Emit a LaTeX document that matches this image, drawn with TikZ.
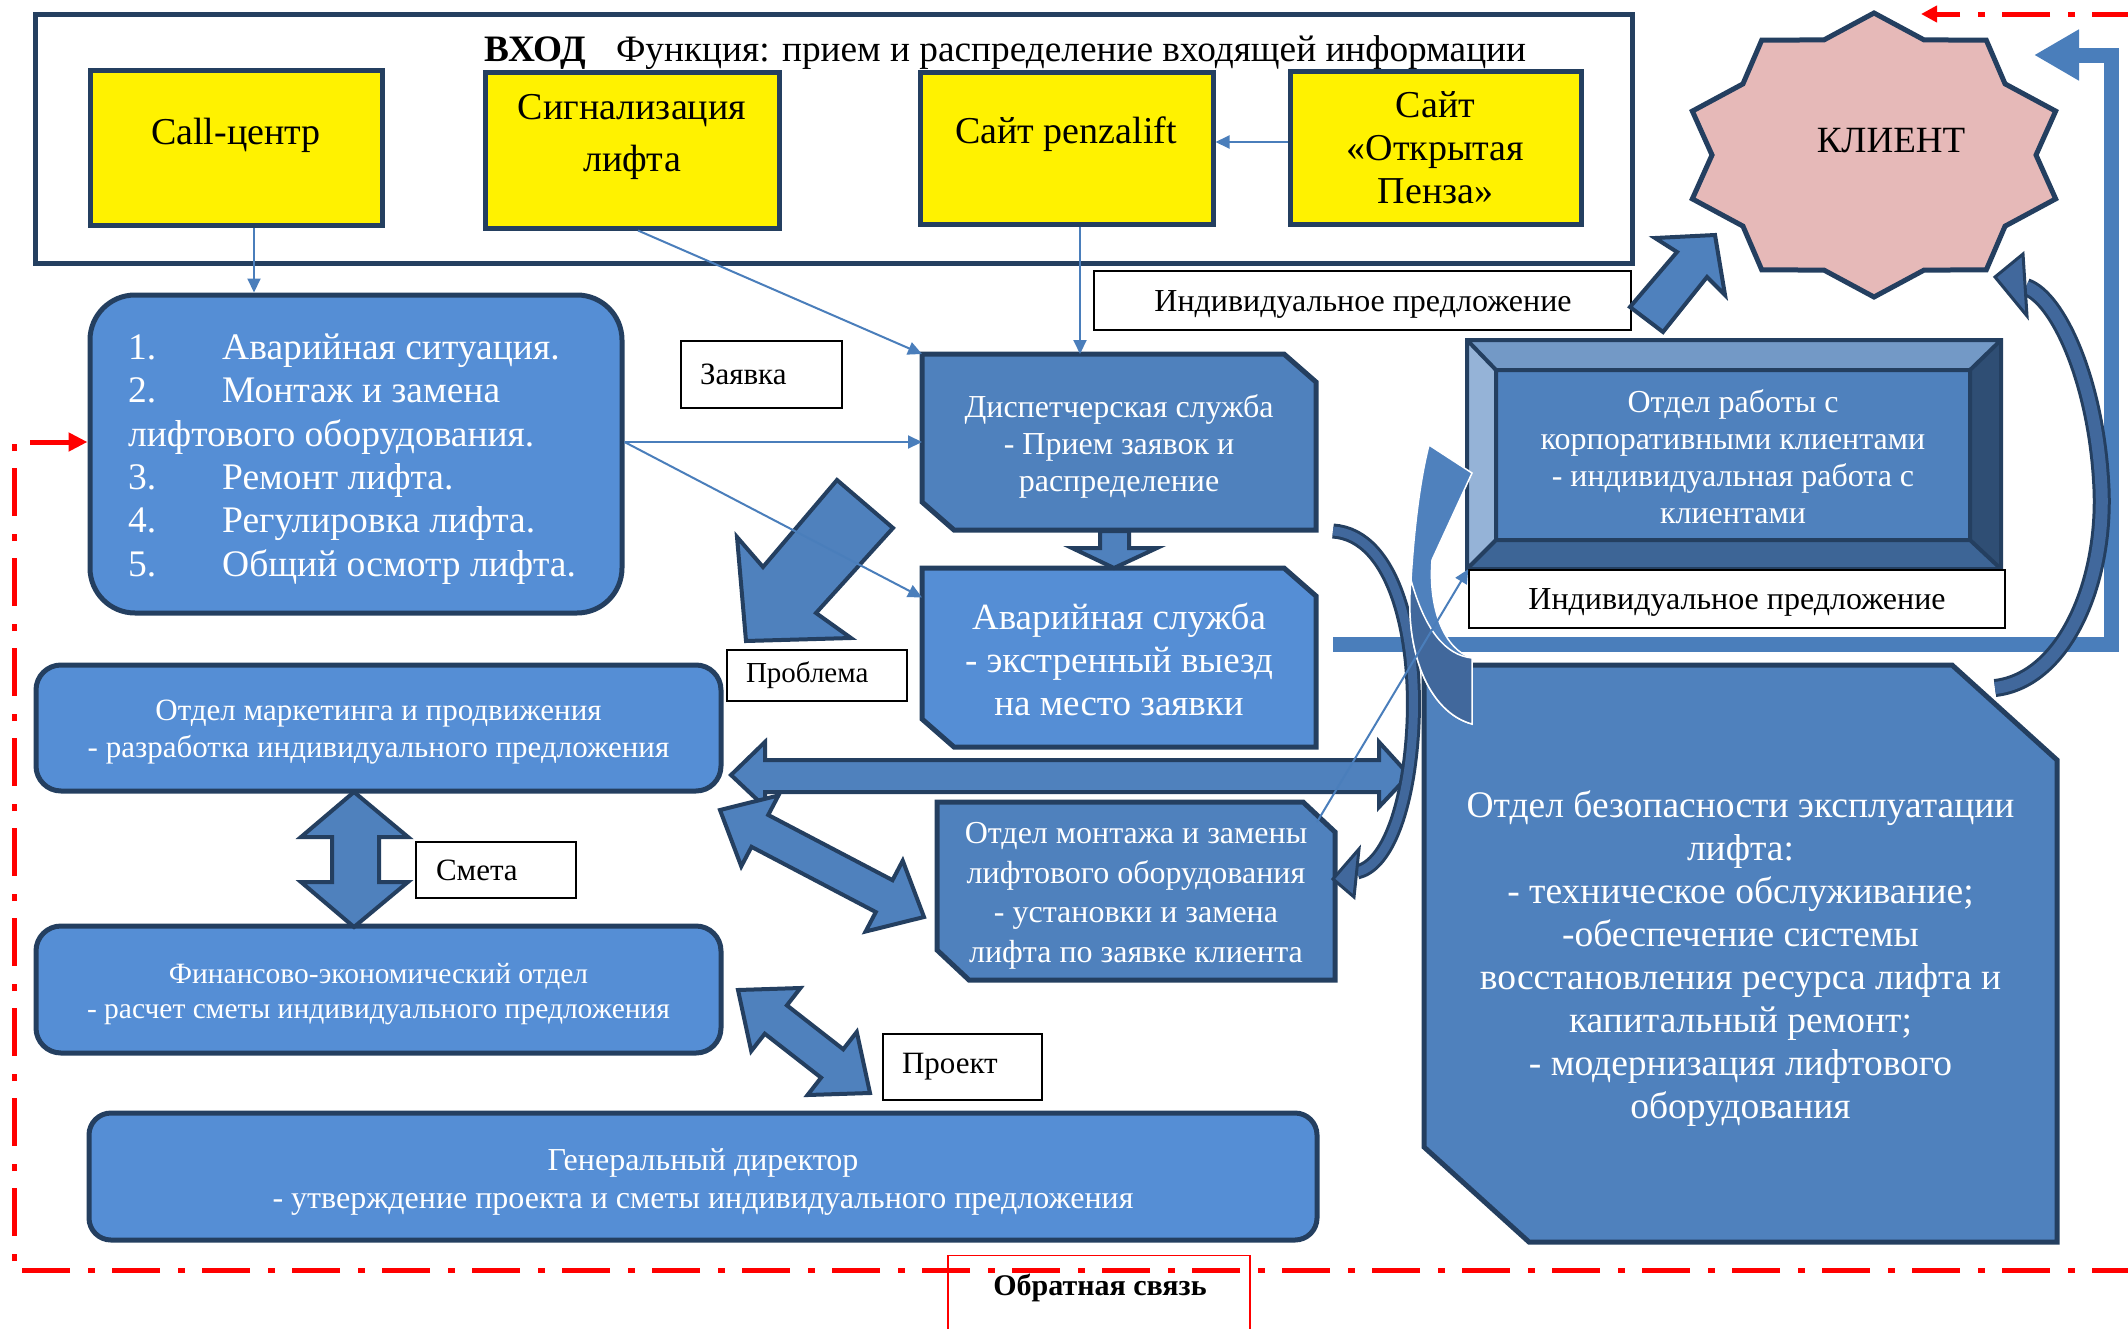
\documentclass[tikz,border=0pt]{standalone}
\usepackage{fontspec}
\setmainfont{Liberation Serif}
\usetikzlibrary{calc,arrows.meta}
\definecolor{navy}{HTML}{243F60}
\definecolor{bluemid}{HTML}{4F81BD}
\definecolor{bluelight}{HTML}{558ED5}
\definecolor{connblue}{HTML}{4A7EBB}
\definecolor{pinkk}{HTML}{E6B9B8}
\definecolor{bandfill}{HTML}{41689C}
\definecolor{bevtop}{HTML}{7399C6}
\definecolor{bevleft}{HTML}{95B3D7}
\definecolor{bevright}{HTML}{2F4E74}
\definecolor{bevbot}{HTML}{3D6596}
\newcommand\fsz[2]{\fontsize{#1}{#2}\selectfont}
\newcommand\dblarrow[5]{%
  \path ($(#1)!#3!(#2)$) coordinate (h1) ($(#2)!#3!(#1)$) coordinate (h2);
  \draw[blockarrow] (#1) -- ($(h1)!#4!90:(#2)$) -- ($(h1)!#5!90:(#2)$) -- ($(h2)!#5!-90:(#1)$) -- ($(h2)!#4!-90:(#1)$) -- (#2) -- ($(h2)!#4!90:(#1)$) -- ($(h2)!#5!90:(#1)$) -- ($(h1)!#5!-90:(#2)$) -- ($(h1)!#4!-90:(#2)$) -- cycle;}
% chamfered box drawn round a named (invisible) node: #1 name, #2 fill, #3 x-cut, #4 y-cut
\newcommand\chamfbox[4]{%
  \draw[draw=navy, line width=5, fill=#2, line join=miter] (#1.north west) -- ([xshift=-#3]#1.north east) -- ([yshift=-#4]#1.north east) -- (#1.south east) -- ([xshift=#3]#1.south west) -- ([yshift=#4]#1.south west) -- cycle;}
\begin{document}
\begin{tikzpicture}[x=1pt,y=-1pt,
  ybox/.style={draw=navy, line width=5, fill=yellow, inner sep=0},
  lbl/.style={draw=black, line width=1.5, fill=white, inner sep=0, text=black},
  rbox/.style={draw=navy, line width=5, fill=bluelight, inner sep=0},
  area/.style={inner sep=0, outer sep=0},
  wtext/.style={text=white, align=center, inner sep=0},
  blockarrow/.style={draw=navy, line width=4, fill=bluemid, line join=miter},
  conn/.style={draw=connblue, line width=2, -{Triangle[length=14pt,width=13pt]}},
  feedback/.style={draw=red, line width=5, dash pattern=on 48pt off 17pt on 7pt off 18pt}]
\clip (0,0) rectangle (2128,1328);
\fill[white] (0,0) rectangle (2128,1328);

% blue frame band to the client
\draw[connblue, line width=15, line join=miter, -{Triangle[length=45pt,width=48pt]}] (1333,644) -- (2111,644) -- (2111,55) -- (2034,55);

% input block
\node[draw=navy, line width=5, minimum width=1597, minimum height=249, inner sep=0] (vhod) at (833.5,138.5) {};
\node[anchor=base west, font=\fsz{37.3}{44}, inner sep=0] (title) at (484,61) {\textbf{ВХОД}\hspace{30pt}Функция: прием и распределение входящей информации};

\node[ybox, minimum width=292, minimum height=155] (call) at (236,147.5) {};
\node[anchor=base, font=\fsz{38}{46}, inner sep=0] (calltxt) at (236,144) {Call-центр};
\node[ybox, minimum width=294, minimum height=156] (signal) at (632,150) {};
\node[align=center, font=\fsz{38}{52}, inner sep=0] (signaltxt) at (632,137) {Сигнализация\\лифта};
\node[ybox, minimum width=293, minimum height=152] (penza) at (1066.5,148) {};
\node[anchor=base, font=\fsz{38}{46}, inner sep=0] (penzatxt) at (1066,143) {Сайт penzalift};
\node[ybox, minimum width=291, minimum height=153, align=center, font=\fsz{38}{43}] (open) at (1435.5,147.5) {Сайт\\«Открытая\\Пенза»};

% client star
\begin{scope}[shift={(1874,155)}]
\draw[draw=navy, line width=5, fill=pinkk, line join=miter] (90:191 and 142) \foreach \a in {0,36,...,324} { -- ({108+\a}:162 and 121) -- ({126+\a}:191 and 142) } -- cycle;
\end{scope}
\node[anchor=base, font=\fsz{37}{44}, inner sep=0] (client) at (1891,152) {КЛИЕНТ};

% list box
\node[rbox, rounded corners=45, minimum width=532, minimum height=318] (list) at (356,454) {};
\node[anchor=west, align=left, text=white, font=\fsz{37.5}{43.3}, inner sep=0] (listtxt) at (128,459) {\makebox[94pt][l]{1.}Аварийная ситуация.\\\makebox[94pt][l]{2.}Монтаж и замена\\лифтового оборудования.\\\makebox[94pt][l]{3.}Ремонт лифта.\\\makebox[94pt][l]{4.}Регулировка лифта.\\\makebox[94pt][l]{5.}Общий осмотр лифта.};

\node[lbl, text width=123pt, inner xsep=19pt, minimum height=67pt, align=left, font=\fsz{31}{36}] (zayavka) at (761.5,374.5) {Заявка};

% services (chamfered boxes)
\node[area, minimum width=394, minimum height=176] (disp) at (1119,442) {};
\chamfbox{disp}{bluemid}{32pt}{28pt}
\node[wtext, font=\fsz{32}{37}] (disptxt) at (1119,446.5) {Диспетчерская служба\\- Прием заявок и\\распределение};
\node[area, minimum width=394, minimum height=179] (avar) at (1119,657.5) {};
\chamfbox{avar}{bluelight}{32pt}{28pt}
\node[wtext, font=\fsz{37}{43}] (avartxt) at (1119,659) {Аварийная служба\\- экстренный выезд\\на место заявки};
\node[area, minimum width=398, minimum height=178] (montazh) at (1136,891) {};
\chamfbox{montazh}{bluemid}{32pt}{30pt}
\node[wtext, font=\fsz{32}{39.5}] (montxt) at (1136,896) {Отдел монтажа и замены\\лифтового оборудования\\- установки и замена\\лифта по заявке клиента};
\node[area, minimum width=633, minimum height=577] (bez) at (1740.5,953.5) {};
\chamfbox{bez}{bluemid}{105pt}{95pt}
\node[wtext, font=\fsz{37.5}{43}] (beztxt) at (1740.5,958.5) {Отдел безопасности эксплуатации\\лифта:\\- техническое обслуживание;\\-обеспечение системы\\восстановления ресурса лифта и\\капитальный ремонт;\\- модернизация лифтового\\оборудования};

% labels
\node[lbl, minimum width=537, minimum height=59] (lab1) at (1362.5,300.5) {};
\node[anchor=base, font=\fsz{32}{38}, inner sep=0] (lab1txt) at (1363,311) {Индивидуальное предложение};
\node[lbl, text width=142pt, inner xsep=19pt, minimum height=51pt, align=left, font=\fsz{29}{35}] (problem) at (817,675.5) {Проблема};

% left departments
\node[rbox, rounded corners=25, minimum width=685, minimum height=126] (mark) at (378.5,728) {};
\node[wtext, font=\fsz{31}{37.5}] (marktxt) at (378.5,732) {Отдел маркетинга и продвижения\\- разработка индивидуального предложения};
\node[rbox, rounded corners=25, minimum width=685, minimum height=127] (fin) at (378.5,989.5) {};
\node[wtext, font=\fsz{29.5}{35}] (fintxt) at (378.5,994) {Финансово-экономический отдел\\- расчет сметы индивидуального предложения};
\node[rbox, rounded corners=22, minimum width=1228, minimum height=127] (gen) at (703,1176.5) {};
\node[wtext, font=\fsz{32}{38}] (gentxt) at (703,1181.5) {Генеральный директор\\- утверждение проекта и сметы индивидуального предложения};
\node[lbl, text width=120pt, inner xsep=20pt, minimum height=56pt, align=left, font=\fsz{31}{37}] (smeta) at (496,870) {Смета};
\node[lbl, text width=121pt, inner xsep=19pt, minimum height=66pt, align=left, font=\fsz{31}{37}] (proekt) at (962.5,1067) {Проект};

% bevel box
\fill[bluemid] (1467,340) rectangle (2001,569);
\fill[bevtop] (1467,340) -- (2001,340) -- (1970,370) -- (1496,370) -- cycle;
\fill[bevleft] (1467,340) -- (1496,370) -- (1496,540) -- (1467,569) -- cycle;
\fill[bevright] (2001,340) -- (2001,569) -- (1970,540) -- (1970,370) -- cycle;
\fill[bevbot] (1467,569) -- (2001,569) -- (1970,540) -- (1496,540) -- cycle;
\draw[navy, line width=4] (1467,340) rectangle (2001,569) (1496,370) rectangle (1970,540) (1467,340) -- (1496,370) (2001,340) -- (1970,370) (2001,569) -- (1970,540) (1467,569) -- (1496,540);
\node[wtext, font=\fsz{32}{37}] (corp) at (1733,457) {Отдел работы с\\корпоративными клиентами\\- индивидуальная работа с\\клиентами};
\node[lbl, minimum width=536, minimum height=58] (lab2) at (1737,599) {};
\node[anchor=base, font=\fsz{32}{38}, inner sep=0] (lab2txt) at (1737,609) {Индивидуальное предложение};

% block arrows
\draw[blockarrow] (1100,531) -- (1129,531) -- (1129,548) -- (1157,548) -- (1114,568) -- (1072,548) -- (1100,548) -- cycle;
\draw[blockarrow] (837,480) -- (893,528) -- (816,613) -- (851,638) -- (746,641) -- (737,537) -- (763,567) -- cycle;
\draw[blockarrow] (354,792) -- (408,837) -- (379,837) -- (379,882) -- (408,882) -- (354,927) -- (301,882) -- (332,882) -- (332,837) -- (301,837) -- cycle;
\draw[blockarrow] (731,775) -- (765,742) -- (765,760) -- (1379,760) -- (1379,742) -- (1409,775) -- (1379,807) -- (1379,792) -- (765,792) -- (765,807) -- cycle;
\coordinate (b5a) at (720,810); \coordinate (b5b) at (924,917);
\dblarrow{b5a}{b5b}{45pt}{40pt}{18pt}
\coordinate (b6a) at (738,990); \coordinate (b6b) at (870,1093);
\dblarrow{b6a}{b6b}{48pt}{40pt}{18pt}
\draw[blockarrow] (1715,235) -- (1725,295) -- (1707,277) -- (1663,332) -- (1630,307) -- (1677,252) -- (1655,238) -- cycle;

% curved arrows
\draw[navy, line width=3, double=bandfill, double distance=9] (1333,531) .. controls (1395,535) and (1420,640) .. (1412,740) .. controls (1406,815) and (1385,866) .. (1357,872);
\draw[navy, line width=3, fill=bandfill, line join=miter] (1333,879) -- (1359,849) -- (1354,897) -- cycle;
\draw[navy, line width=3, double=bandfill, double distance=12] (1995,688) .. controls (2065,680) and (2108,580) .. (2101,480) .. controls (2095,380) and (2058,298) .. (2026,287);
\draw[navy, line width=3, fill=bandfill, line join=miter] (1995,277) -- (2023,254) -- (2027,316) -- cycle;
\fill[bluemid, draw=white, line width=1.5] (1472,724) .. controls (1428,712) and (1404,650) .. (1411,580) .. controls (1414,530) and (1420,480) .. (1429,445) -- (1472,473) -- (1432,560) .. controls (1428,610) and (1445,650) .. (1472,658) -- cycle;
\fill[bandfill, draw=white, line width=1.5] (1472,724) .. controls (1428,712) and (1404,650) .. (1411,580) .. controls (1425,630) and (1445,655) .. (1472,658) -- cycle;

% thin connectors
\draw[conn] ([xshift=18pt]call.south) -- ([xshift=18pt]call.south |- list.north);
\draw[conn] ([xshift=6pt]signal.south) -- (disp.north west);
\draw[conn] ([xshift=13.5pt]penza.south) -- ([xshift=13.5pt]penza.south |- disp.north);
\draw[conn] ([yshift=5.5pt]open.west) -- ([yshift=5.5pt]open.west -| penza.east);
\draw[conn] ([yshift=12pt]list.east) -- ([yshift=12pt]list.east -| disp.west);
\draw[conn] ([yshift=12pt]list.east) -- ([yshift=60pt]avar.west);
\coordinate (m1) at (1317,822);
\draw[conn] (m1) -- (lab2.north west);

% feedback loop
\draw[feedback, -{Triangle[length=19pt,width=18pt]}] (2140,1270) -- (14,1270) -- (14,442) -- ([yshift=12pt]list.west);
\draw[feedback, -{Triangle[length=16pt,width=16pt]}] (2140,14) -- (1921,14);
\node[draw=red, line width=1.2, minimum width=302, minimum height=100, anchor=north, inner sep=0] (fbbox) at (1099,1255) {};
\node[anchor=base, font=\bfseries\fsz{30}{36}, inner sep=0] (fb) at (1100,1295) {Обратная связь};
\end{tikzpicture}
\end{document}
